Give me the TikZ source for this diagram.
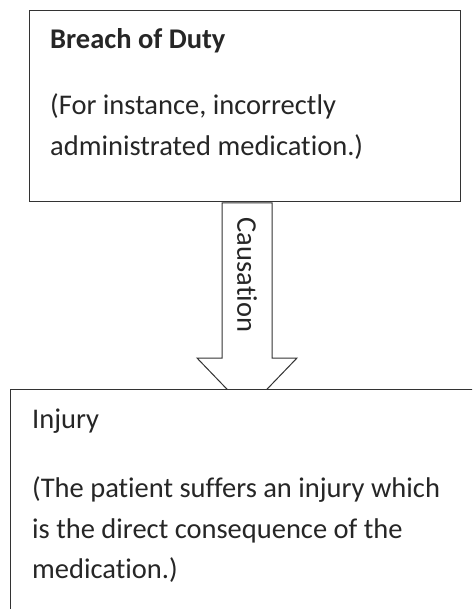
\documentclass[tikz,border=0pt]{standalone}
\usepackage{fontspec}
\setmainfont[Ligatures={NoCommon,NoContextual,NoRare}]{Carlito}
\begin{document}
\begin{tikzpicture}[x=1pt,y=-1pt,
  boxline/.style={draw=black!80,line width=1pt},
  txt/.style={anchor=base west,inner sep=0pt,text=black!85,font=\fontsize{28.5}{32}\selectfont},
  ttl/.style={txt,font=\fontsize{28.5}{32}\selectfont\bfseries}]
\useasboundingbox (0,0) rectangle (472,609);
\clip (0,0) rectangle (472,609);
% top box
\node[boxline,rectangle,minimum width=431pt,minimum height=191pt,anchor=north west,inner sep=0pt] (breach) at (29,10) {};
\node[ttl] (t1) at (50,48.5) {Breach of Duty};
\node[txt] (t2) at (50,114.5) {(For instance, incorrectly};
\node[txt] (t3) at (50,156) {administrated medication.)};
% arrow
\coordinate (a1) at (222,203);
\coordinate (a2) at (272,203);
\coordinate (a3) at (272,358);
\coordinate (a4) at (297,358);
\coordinate (a5) at (247,410);
\coordinate (a6) at (197,358);
\coordinate (a7) at (222,358);
\draw[boxline,fill=white] (a1) -- (a2) -- (a3) -- (a4) -- (a5) -- (a6) -- (a7) -- cycle;
\node[txt,anchor=center,rotate=-90] (cause) at (247,275) {Causation};
% bottom box
\node[boxline,rectangle,fill=white,minimum width=480pt,minimum height=240pt,anchor=north west,inner sep=0pt] (injury) at (10,389) {};
\node[txt] (b1) at (32,428) {Injury};
\node[txt] (b2) at (32,497) {(The patient suffers an injury which};
\node[txt] (b3) at (32,538) {is the direct consequence of the};
\node[txt] (b4) at (32,578) {medication.)};
\end{tikzpicture}
\end{document}
